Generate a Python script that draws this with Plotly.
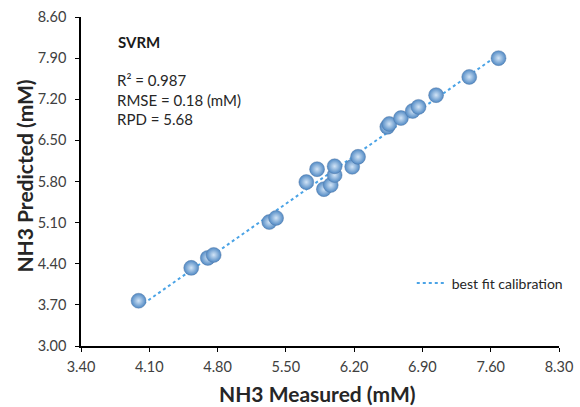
import numpy as np
import plotly.graph_objects as go

measured = [3.99, 4.53, 4.70, 4.76, 5.33, 5.40, 5.71, 5.82, 5.89, 5.96, 6.00,
            6.00, 6.18, 6.24, 6.54, 6.56, 6.68, 6.80, 6.86, 7.04, 7.38, 7.68]
predicted = [3.77, 4.33, 4.50, 4.55, 5.11, 5.18, 5.79, 6.01, 5.67, 5.74, 5.91,
             6.06, 6.05, 6.22, 6.73, 6.78, 6.88, 7.00, 7.07, 7.27, 7.58, 7.90]
x_ticks = [3.40, 4.10, 4.80, 5.50, 6.20, 6.90, 7.60, 8.30]
y_ticks = [3.00, 3.70, 4.40, 5.10, 5.80, 6.50, 7.20, 7.90, 8.60]
model_name = "SVRM"
stats_lines = ["R² = 0.987", "RMSE = 0.18 (mM)", "RPD = 5.68"]
x_title = "NH3 Measured (mM)"
y_title = "NH3 Predicted (mM)"

slope, intercept = np.polyfit(measured, predicted, 1)
fit_x = [min(measured), max(measured)]
fit_y = [slope * v + intercept for v in fit_x]

FONT = "Lato, 'Open Sans', sans-serif"

fig = go.Figure()
fig.add_trace(go.Scatter(
    x=fit_x, y=fit_y, mode="lines", name="best fit calibration",
    line=dict(color="#4aa3e6", width=2, dash="dot"),
))
fig.add_trace(go.Scatter(
    x=measured, y=predicted, mode="markers", showlegend=False,
    marker=dict(size=15, color="#5089c4",
                gradient=dict(type="radial", color="#d2e4f6"),
                line=dict(color="rgba(80,115,160,0.5)", width=0.8)),
))

fig.add_annotation(x=0.074, y=(346 - 42) / 329, xref="paper", yref="paper",
                   text="<b>" + model_name + "</b>", showarrow=False,
                   xanchor="left", yanchor="middle",
                   font=dict(family=FONT, size=15, color="#1a1a1a"))
for i, line in enumerate(stats_lines):
    fig.add_annotation(x=0.072, y=(346 - 80 - i * 19.5) / 329, xref="paper", yref="paper",
                       text=line, showarrow=False, xanchor="left", yanchor="middle",
                       font=dict(family=FONT, size=15, color="#262626"))

# axis titles
fig.add_annotation(x=(320 - 81) / 483, y=-(393 - 346) / 329, xref="paper", yref="paper",
                   text="<b>" + x_title + "</b>", showarrow=False,
                   xanchor="center", yanchor="middle",
                   font=dict(family=FONT, size=21, color="#262626"))
fig.add_annotation(x=-(81 - 23) / 483, y=(346 - 176) / 329, xref="paper", yref="paper",
                   text="<b>" + y_title + "</b>", showarrow=False, textangle=-90,
                   xanchor="center", yanchor="middle",
                   font=dict(family=FONT, size=21, color="#262626"))

axis_common = dict(showgrid=False, zeroline=False, showline=True, linecolor="black",
                   linewidth=1.5, ticks="outside", ticklen=4, tickcolor="black",
                   automargin=False,
                   tickfont=dict(family=FONT, size=14.5, color="#404040"))

fig.update_xaxes(range=[3.4, 8.3], tickvals=x_ticks, ticklabelstandoff=3,
                 ticktext=[f"{v:.2f}" for v in x_ticks], **axis_common)
fig.update_yaxes(range=[3.0, 8.6], tickvals=y_ticks, ticklabelstandoff=6,
                 ticktext=[f"{v:.2f}" for v in y_ticks], **axis_common)

fig.update_layout(
    width=580, height=407,
    margin=dict(l=81, r=16, t=17, b=61),
    paper_bgcolor="white", plot_bgcolor="white",
    legend=dict(x=0.692, y=0.19, xanchor="left", yanchor="middle",
                bgcolor="rgba(0,0,0,0)", itemwidth=30,
                font=dict(family=FONT, size=14, color="#262626")),
)

fig.write_html("out.html")
